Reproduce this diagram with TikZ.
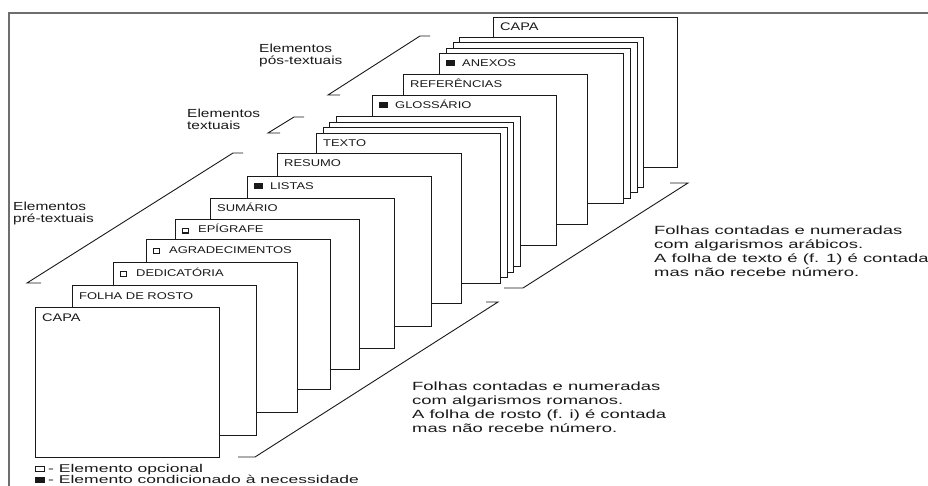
\documentclass[tikz,border=0pt]{standalone}
\usepackage{fontspec}
\usepackage{xcolor}
\usetikzlibrary{positioning}
\newfontfamily\sheetfont[FakeStretch=1.32]{Liberation Sans}
\newfontfamily\notefont[FakeStretch=1.55]{Liberation Sans}
\definecolor{framegray}{RGB}{110,110,110}
\definecolor{inkblack}{RGB}{25,25,25}
\newcommand{\optbox}{{\setlength{\fboxsep}{0pt}\setlength{\fboxrule}{1.1pt}\raisebox{0.5pt}{\fbox{\rule{0pt}{3.4pt}\rule{4.8pt}{0pt}}}}}
\newcommand{\needbox}{\raisebox{0.5pt}{\rule{9pt}{6pt}}}
\newcommand{\capasize}{\fontsize{11}{12}\selectfont}

\begin{document}
\begin{tikzpicture}[
    x=1pt, y=-1pt,
    sheet/.style={
        rectangle,
        draw=inkblack,
        fill=white,
        line width=1.3pt,
        minimum width=184pt,
        minimum height=150pt,
        inner sep=0pt,
        anchor=north west
    },
    sheetlabel/.style={anchor=base west, inner sep=0pt, text=inkblack,
        font=\sheetfont\fontsize{9.8}{11}\selectfont},
    grouptext/.style={anchor=north west, inner sep=0pt, align=left, text=inkblack,
        font=\sheetfont\fontsize{11.7}{12.5}\selectfont},
    notetext/.style={anchor=north west, inner sep=0pt, align=left, text=inkblack,
        font=\notefont\fontsize{11.9}{14}\selectfont},
    keytext/.style={anchor=base west, inner sep=0pt, text=inkblack,
        font=\notefont\fontsize{11.3}{12}\selectfont},
    bracket/.style={draw=inkblack, line width=0.9pt},
    frameline/.style={draw=framegray, line width=2pt}
]
\useasboundingbox (0,0) rectangle (928,486);
\draw[frameline] (9,486) |- (928,13);

\foreach \n/\px/\py/\txt in {
    19/493/17/{\capasize CAPA},
    18/459/37/{},
    17/453/42/{},
    16/446/48/{},
    15/439/53/{\needbox\hspace{7pt}ANEXOS},
    14/403/74/{REFERÊNCIAS},
    13/372/95/{\needbox\hspace{7pt}GLOSSÁRIO},
    12/336/116/{},
    11/329/122/{},
    10/323/127/{},
    9/316/133/{TEXTO},
    8/277/153/{RESUMO},
    7/247/176/{\needbox\hspace{7pt}LISTAS},
    6/210/198/{SUMÁRIO},
    5/175/219/{\optbox\hspace{9pt}EPÍGRAFE},
    4/146/239/{\optbox\hspace{9pt}AGRADECIMENTOS},
    3/113/262/{\optbox\hspace{9pt}DEDICATÓRIA},
    2/72/285/{FOLHA DE ROSTO},
    1/35/307/{\capasize CAPA}}{
    \node[sheet] (sheet\n) at (\px,\py) {};
    \node[sheetlabel] (label\n) at ([shift={(7,14)}]sheet\n.north west) {\txt};
}

\node[grouptext] (pos) at (259,43.5) {Elementos\\pós-textuais};
\node[grouptext] (textuais) at (187,108.5) {Elementos\\textuais};
\node[grouptext] (pre) at (13,201.5) {Elementos\\pré-textuais};

\draw[bracket] (340,95) -- (328,95) -- (420,36) -- (430,36);
\draw[bracket] (280,133) -- (268,133) -- (294,117) -- (304,117);
\draw[bracket] (41,283) -- (27,283) -- (233,153) -- (243,153);

\draw[bracket] (504,288) -- (523,288) -- (688,183) -- (670,183);
\draw[bracket] (238,457) -- (255,457) -- (498,302) -- (486,302);

\node[notetext] (arabicos) at (654,225.3) {Folhas contadas e numeradas\\com algarismos arábicos.\\A folha de texto é (f. 1) é contada\\mas não recebe número.};
\node[notetext] (romanos) at (412,381.3) {Folhas contadas e numeradas\\com algarismos romanos.\\A folha de rosto (f. i) é contada\\mas não recebe número.};

\draw[inkblack, line width=1pt] (35.5,466) rectangle (44,471.5);
\fill[inkblack] (35,476.5) rectangle (45,482.5);
\node[keytext] (optkey) at (48,472.5) {- Elemento opcional};
\node[keytext] (needkey) at (48,483) {- Elemento condicionado à necessidade};
\end{tikzpicture}
\end{document}
